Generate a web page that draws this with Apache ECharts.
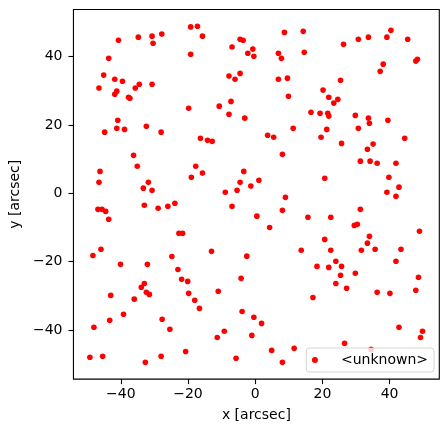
<!DOCTYPE html>
<html>
<head>
<meta charset="utf-8">
<script src="https://cdn.jsdelivr.net/npm/echarts@6/dist/echarts.min.js"></script>
<style>
html,body{margin:0;padding:0;background:#fff;}
#chart{width:448px;height:432px;}
</style>
</head>
<body>
<div id="chart"></div>
<script>
const seriesName = '<unknown>';
const xValues = [
-19.2,-40.7,-34.8,-30.7,-27.8,-30.4,-19.2,-43.6,-45.1,-41.8,
-39.5,-46.5,-41.2,-41.8,-35.7,-34.5,-30.7,-37.7,-37.3,-19.8,
-40.9,-41.2,-38.9,-32.4,-44.8,-28.0,-17.2,-15.7,-6.9,-4.5,
-3.6,-2.2,-0.7,-0.4,8.7,14.3,6.9,7.8,14.6,-7.8,
-6.0,-4.5,6.9,9.6,9.9,-7.2,-10.7,-7.8,-3.1,16.6,
11.3,3.7,5.5,40.4,26.3,30.7,33.7,39.2,45.4,38.1,
37.2,47.8,48.3,25.4,20.2,21.9,24.6,23.4,19.3,21.6,
21.9,29.8,33.7,34.0,39.5,21.3,30.7,-36.2,-35.1,-46.2,
-46.5,-31.8,-33.3,-30.7,-33.0,-28.9,-26.0,-23.9,-46.8,-45.6,
-44.5,-43.6,-22.7,-21.6,-45.9,-48.3,-24.8,-16.3,-14.2,-12.8,
8.1,-17.7,-15.7,-19.0,-3.4,-4.5,1.1,-1.3,-8.9,-5.4,
9.0,-6.9,8.1,15.7,0.5,4.3,-13.0,-2.5,13.7,19.6,
25.7,33.4,35.1,44.5,31.3,34.2,36.3,41.9,20.7,39.8,
42.8,39.2,41.9,31.3,22.5,29.5,30.4,48.9,34.0,33.4,
20.7,22.5,31.6,35.7,43.4,-40.1,-32.1,-23.0,-21.9,-20.1,
-33.0,-33.9,-32.4,-31.5,-19.8,-18.0,-43.0,-36.0,-39.2,-43.3,
-48.0,-27.7,-25.4,-49.2,-45.4,-28.0,-20.7,-32.7,-4.2,-11.0,
-16.6,-3.9,-0.4,1.9,-9.2,-11.3,-1.0,17.2,4.9,11.6,
-5.7,8.1,18.4,21.9,24.0,25.7,25.4,29.8,24.0,27.2,
41.9,48.6,47.8,36.3,40.1,42.8,49.8,49.2,26.6,34.5
];
const yValues = [
48.7,44.8,45.7,46.0,46.6,43.9,40.7,39.5,34.6,33.4,
32.8,30.8,29.9,29.0,30.8,31.9,31.9,28.1,27.8,24.9,
21.4,19.0,18.7,19.6,17.9,17.9,48.9,46.0,42.8,45.1,
44.8,41.0,42.2,40.1,47.1,47.4,41.0,39.5,41.3,34.3,
33.4,35.1,33.4,33.7,28.4,26.9,25.5,23.1,22.0,23.7,
19.0,17.0,16.4,47.7,43.6,45.1,45.7,45.7,45.1,37.8,
35.7,38.7,39.2,33.1,30.2,28.1,27.5,26.4,23.4,23.4,
22.6,22.8,22.0,20.5,21.4,18.7,19.0,11.1,7.9,6.4,
3.2,3.2,1.5,0.9,-3.5,-4.4,-3.8,-2.9,-4.7,-4.7,
-5.3,-7.6,-11.7,-11.7,-16.4,-18.2,-18.5,16.1,15.5,15.2,
11.4,7.9,5.9,4.7,6.4,3.2,3.8,2.1,0.3,0.9,
-1.2,-3.8,-5.0,-7.0,-6.7,-10.0,-17.0,-18.4,-16.7,16.4,
14.6,12.9,14.4,16.1,9.4,9.4,8.8,8.8,4.4,4.7,
1.8,0.3,-0.9,-4.7,-7.0,-9.4,-9.1,-11.1,-12.6,-14.6,
-13.5,-16.7,-16.7,-16.4,-16.4,-20.8,-20.8,-22.3,-25.2,-25.8,
-26.4,-27.5,-29.0,-29.6,-29.3,-31.3,-29.9,-31.0,-35.4,-37.2,
-39.2,-36.9,-39.8,-48.0,-47.7,-47.7,-46.3,-49.5,-24.9,-28.7,
-33.7,-34.6,-36.3,-38.1,-40.4,-42.2,-41.6,-30.5,-46.0,-45.4,
-48.3,-49.5,-21.4,-21.7,-19.9,-21.4,-24.0,-23.4,-26.4,-27.8,
-19.9,-24.6,-28.4,-29.0,-29.3,-39.2,-40.4,-42.2,-43.9,-45.7
];
const xTicks = [-40, -20, 0, 20, 40];
const yTicks = [-40, -20, 0, 20, 40];
const xTitle = 'x [arcsec]';
const yTitle = 'y [arcsec]';

const points = xValues.map((x, i) => [x, yValues[i]]);
const fmt = v => (v < 0 ? '\u2212' + Math.abs(v) : String(v));
const font = 'DejaVu Sans';

const chart = echarts.init(document.getElementById('chart'), null, {renderer: 'canvas'});
chart.setOption({
  animation: false,
  backgroundColor: '#ffffff',
  grid: {
    left: 68.5, right: 8.7, top: 9.5, bottom: 52.9,
    show: true, borderColor: '#000', borderWidth: 1.1, backgroundColor: 'transparent'
  },
  xAxis: {
    type: 'value', min: -54.1, max: 54.8, position: 'bottom',
    name: xTitle, nameLocation: 'middle', nameGap: 29,
    nameTextStyle: {fontFamily: font, fontSize: 14, color: '#000', lineHeight: 14},
    axisLine: {show: false, onZero: false},
    axisTick: {show: true, inside: false, length: 5, lineStyle: {color: '#000', width: 1.1}, customValues: xTicks},
    axisLabel: {show: true, margin: 8, fontFamily: font, fontSize: 14, color: '#000', lineHeight: 14,
      customValues: xTicks, formatter: fmt},
    splitLine: {show: false}
  },
  yAxis: {
    type: 'value', min: -54.4, max: 53.8, position: 'left',
    name: yTitle, nameLocation: 'middle', nameGap: 44,
    nameTextStyle: {fontFamily: font, fontSize: 14, color: '#000', lineHeight: 14},
    axisLine: {show: false, onZero: false},
    axisTick: {show: true, inside: false, length: 5, lineStyle: {color: '#000', width: 1.1}, customValues: yTicks},
    axisLabel: {show: true, margin: 11, fontFamily: font, fontSize: 14, color: '#000',
      customValues: yTicks, formatter: fmt},
    splitLine: {show: false}
  },
  legend: {
    show: true,
    right: 14, bottom: 60,
    orient: 'vertical',
    padding: [5, 6, 5, 5.6],
    itemWidth: 28, itemHeight: 6,
    icon: 'circle',
    backgroundColor: 'rgba(255,255,255,0.8)',
    borderColor: 'rgba(204,204,204,0.8)',
    borderWidth: 1,
    borderRadius: 3,
    textStyle: {fontFamily: font, fontSize: 14, color: '#000', lineHeight: 14, padding: [0, 0, 0, 7]},
    data: [seriesName]
  },
  series: [{
    name: seriesName,
    type: 'scatter',
    data: points,
    symbol: 'circle',
    symbolSize: 5.6,
    itemStyle: {color: '#ff0000', opacity: 1},
    emphasis: {disabled: true}
  }]
});
</script>
</body>
</html>
